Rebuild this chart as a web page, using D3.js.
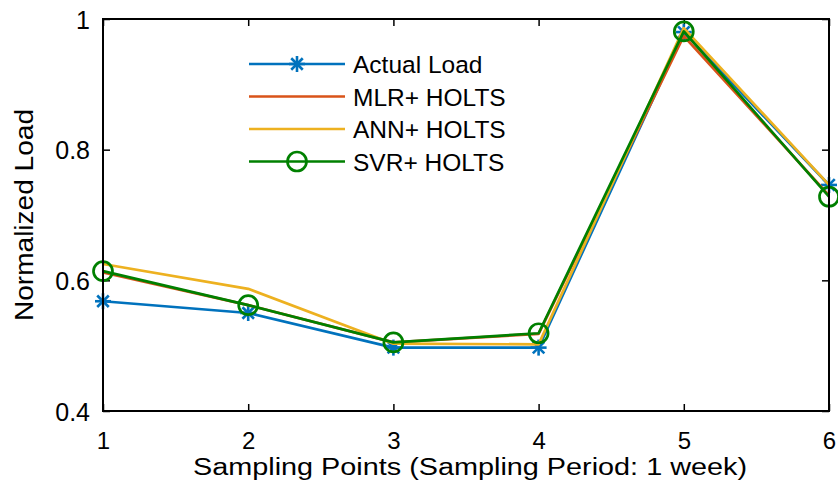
<!DOCTYPE html>
<html><head><meta charset="utf-8">
<script src="https://cdn.jsdelivr.net/npm/d3@7"></script>
<style>body{margin:0;background:#fff}svg{display:block}text{font-family:"Liberation Sans",Arial,sans-serif}</style>
</head><body><svg id="c" width="838" height="488"></svg>
<script>
const xs = [1, 2, 3, 4, 5, 6];
const actualLoad = [0.568, 0.550, 0.497, 0.497, 0.980, 0.746];
const mlrHolts = [0.612, 0.562, 0.505, 0.518, 0.974, 0.730];
const annHolts = [0.625, 0.587, 0.503, 0.502, 0.986, 0.746];
const svrHolts = [0.614, 0.562, 0.505, 0.519, 0.981, 0.728];
const xTicks = [1, 2, 3, 4, 5, 6];
const yTicks = [0.4, 0.6, 0.8, 1];
const seriesNames = ["Actual Load", "MLR+ HOLTS", "ANN+ HOLTS", "SVR+ HOLTS"];

const series = [
  {name: seriesNames[0], v: actualLoad, color: "#0072BD", marker: "star"},
  {name: seriesNames[1], v: mlrHolts, color: "#D95319", marker: null},
  {name: seriesNames[2], v: annHolts, color: "#EDB120", marker: null},
  {name: seriesNames[3], v: svrHolts, color: "#008000", marker: "circle"}
];

const FONT = '"Liberation Sans",Arial,sans-serif';
const svg = d3.select("#c");
const L = 103, R = 829, T = 19, B = 411;
const x = d3.scaleLinear().domain([1, 6]).range([L, R]);
const y = d3.scaleLinear().domain([0.4, 1]).range([B, T]);

const fmtY = d => d === 1 ? "1" : d3.format(".1f")(d);

const ax = svg.append("g").attr("transform", `translate(0,${B})`)
  .call(d3.axisBottom(x).tickValues(xTicks).tickSizeInner(-7).tickSizeOuter(0).tickPadding(21).tickFormat(d3.format("d")));
const axT = svg.append("g").attr("transform", `translate(0,${T})`)
  .call(d3.axisTop(x).tickValues(xTicks).tickSizeInner(-7).tickSizeOuter(0).tickFormat(""));
const ay = svg.append("g").attr("transform", `translate(${L},0)`)
  .call(d3.axisLeft(y).tickValues(yTicks).tickSizeInner(-7).tickSizeOuter(0).tickPadding(13).tickFormat(fmtY));
const ayR = svg.append("g").attr("transform", `translate(${R},0)`)
  .call(d3.axisRight(y).tickValues(yTicks).tickSizeInner(-7).tickSizeOuter(0).tickFormat(""));
[ax, axT, ay, ayR].forEach(g => {
  g.selectAll(".domain").remove();
  g.selectAll(".tick line").attr("stroke", "#000").attr("stroke-width", 1.5);
  g.selectAll("text").attr("font-size", 25).attr("fill", "#000").attr("font-family", FONT);
});
ax.selectAll("text").attr("font-size", 24).attr("dy", "0.71em");
ay.selectAll("text").attr("dy", "0.36em");

const lineGen = d3.line().x((d, i) => x(xs[i])).y(d => y(d));

function drawMarker(g, type, cx, cy, color) {
  if (type === "star") {
    const r = 8;
    const p = g.append("g").attr("stroke", color).attr("stroke-width", 2.6);
    p.append("line").attr("x1", cx - r).attr("x2", cx + r).attr("y1", cy).attr("y2", cy);
    p.append("line").attr("x1", cx).attr("x2", cx).attr("y1", cy - r).attr("y2", cy + r);
    const k = r * 0.72;
    p.append("line").attr("x1", cx - k).attr("x2", cx + k).attr("y1", cy - k).attr("y2", cy + k);
    p.append("line").attr("x1", cx - k).attr("x2", cx + k).attr("y1", cy + k).attr("y2", cy - k);
  } else if (type === "circle") {
    g.append("circle").attr("cx", cx).attr("cy", cy).attr("r", 9.5)
      .attr("fill", "none").attr("stroke", color).attr("stroke-width", 2.7);
  }
}

series.forEach(s => {
  const g = svg.append("g");
  g.append("path").datum(s.v).attr("d", lineGen).attr("fill", "none")
    .attr("stroke", s.color).attr("stroke-width", 2.7).attr("stroke-linejoin", "round");
  if (s.marker) s.v.forEach((v, i) => drawMarker(g, s.marker, x(xs[i]), y(v), s.color));
});

svg.append("rect").attr("x", L).attr("y", T).attr("width", R - L).attr("height", B - T)
  .attr("fill", "none").attr("stroke", "#000").attr("stroke-width", 2);

const leg = svg.append("g");
series.forEach((s, i) => {
  const ly = 64 + i * 32.5;
  leg.append("line").attr("x1", 249).attr("x2", 345).attr("y1", ly).attr("y2", ly)
    .attr("stroke", s.color).attr("stroke-width", 2.7);
  if (s.marker) drawMarker(leg, s.marker, 297, ly, s.color);
  leg.append("text").attr("x", 353).attr("y", ly).attr("dy", "0.37em")
    .attr("font-size", 24.5).attr("fill", "#000").text(s.name);
});

svg.append("text").attr("x", 470).attr("y", 475).attr("text-anchor", "middle")
  .attr("font-size", 23).attr("textLength", 554).attr("lengthAdjust", "spacingAndGlyphs")
  .attr("fill", "#000").text("Sampling Points (Sampling Period: 1 week)");
svg.append("text").attr("transform", `translate(33,215) rotate(-90)`).attr("text-anchor", "middle")
  .attr("font-size", 25).attr("textLength", 212).attr("lengthAdjust", "spacingAndGlyphs")
  .attr("fill", "#000").text("Normalized Load");
</script></body></html>
